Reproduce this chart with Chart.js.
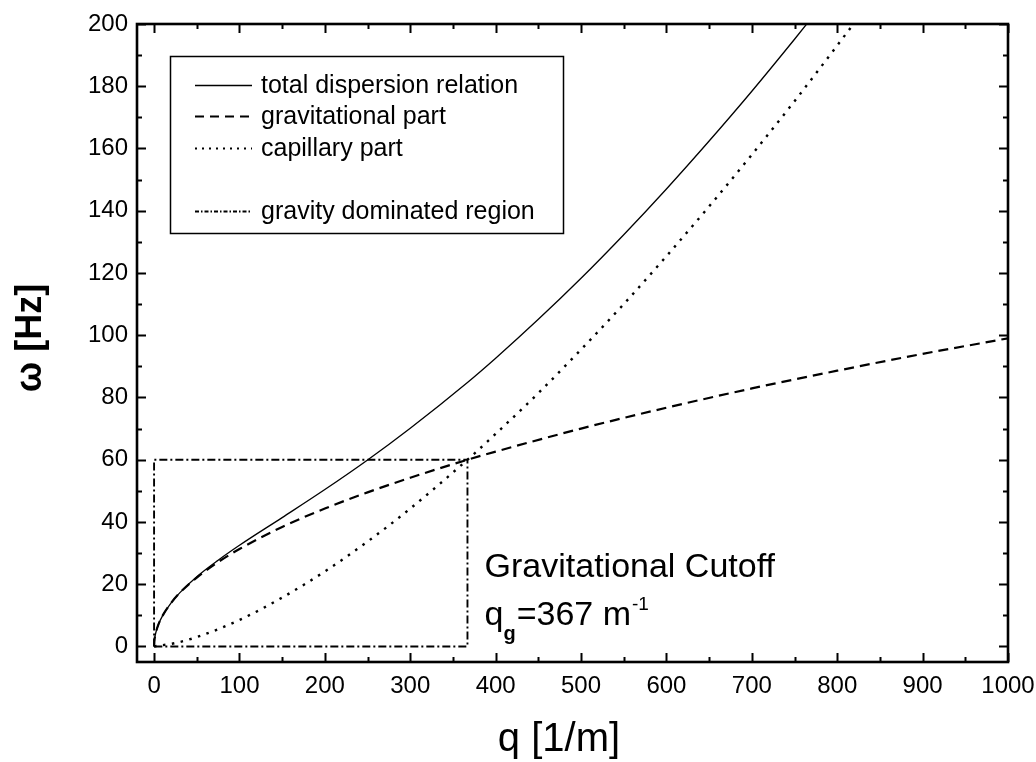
<!DOCTYPE html>
<html>
<head>
<meta charset="utf-8">
<title>Dispersion relation</title>
<script src="https://cdn.jsdelivr.net/npm/chart.js@4/dist/chart.umd.min.js"></script>
<style>
  body { margin: 0; background: #fff; }
  #wrap { width: 1036px; height: 762px; }
</style>
</head>
<body>
<div id="wrap"><canvas id="dispersionChart" width="1036" height="762"></canvas></div>
<script>
// wave number q [1/m] and angular frequency omega [Hz] for each curve
const qTotal = [0, 0.5, 1, 2, 5, 10, 20, 30, 50, 75, 100, 150, 200, 250, 300, 367, 400, 450, 500, 550, 600, 650, 700, 750, 780];
const wTotal = [0, 2.2, 3.1, 4.4, 7.0, 9.9, 14.0, 17.2, 22.4, 27.7, 32.5, 41.4, 50.4, 59.9, 70.1, 84.8, 92.6, 105.1, 118.3, 132.3, 147.0, 162.4, 178.4, 195.1, 205.4];

const qGrav = [0, 0.5, 1, 2, 5, 10, 20, 30, 50, 75, 100, 150, 200, 250, 300, 367, 400, 500, 600, 700, 800, 900, 1000];
const wGrav = [0, 2.2, 3.1, 4.4, 7.0, 9.9, 14.0, 17.2, 22.1, 27.1, 31.3, 38.4, 44.3, 49.5, 54.2, 60.0, 62.6, 70.0, 76.7, 82.9, 88.6, 94.0, 99.0];

const qCap = [0, 25, 50, 100, 150, 200, 250, 300, 367, 400, 450, 500, 550, 600, 650, 700, 750, 800, 830];
const wCap = [0, 1.1, 3.0, 8.5, 15.7, 24.1, 33.7, 44.3, 60.0, 68.3, 81.4, 95.4, 110.0, 125.4, 141.4, 158.0, 175.2, 193.1, 204.0];

// gravity dominated region: box up to the cutoff q_g
const qRegion = [0, 0, 367, 367, 0];
const wRegion = [0, 60, 60, 0, 0];

const xTicks = [0, 100, 200, 300, 400, 500, 600, 700, 800, 900, 1000];
const yTicks = [0, 20, 40, 60, 80, 100, 120, 140, 160, 180, 200];
const xMinorStep = 50;
const yMinorStep = 10;

const legendLabels = ['total dispersion relation', 'gravitational part', 'capillary part', 'gravity dominated region'];

const FONT = '"Liberation Sans", Arial, sans-serif';

function toPoints(xs, ys) {
    return xs.map((x, i) => ({ x: x, y: ys[i] }));
}

const styles = [
    { width: 1.3, dash: [] },
    { width: 2.2, dash: [10, 6] },
    { width: 2.4, dash: [2.5, 6.5] },
    { width: 1.9, dash: [8, 3, 2, 3] }
];

const datasets = [
    toPoints(qTotal, wTotal),
    toPoints(qGrav, wGrav),
    toPoints(qCap, wCap),
    toPoints(qRegion, wRegion)
].map((pts, i) => ({
    label: legendLabels[i],
    data: pts,
    showLine: true,
    borderColor: '#000',
    borderWidth: styles[i].width,
    borderDash: styles[i].dash,
    pointRadius: 0,
    cubicInterpolationMode: i < 3 ? 'monotone' : 'default',
    tension: 0,
    fill: false
}));

// keep the plot frame fixed, labels may overhang into the page margin
function noOverhang(s) {
    s.paddingLeft = 0;
    s.paddingRight = 0;
    s.paddingTop = 0;
    s.paddingBottom = 0;
}

// frame with inward ticks, legend box, titles and the cutoff note
const decorations = {
    id: 'decorations',
    beforeDraw(chart) {
        const ctx = chart.ctx;
        ctx.save();
        ctx.fillStyle = '#fff';
        ctx.fillRect(0, 0, chart.width, chart.height);
        ctx.restore();
    },
    afterDraw(chart) {
        const ctx = chart.ctx;
        const a = chart.chartArea;
        const xs = chart.scales.x;
        const ys = chart.scales.y;
        ctx.save();
        ctx.strokeStyle = '#000';
        ctx.fillStyle = '#000';
        ctx.setLineDash([]);

        // ticks
        ctx.lineWidth = 2;
        ctx.beginPath();
        for (let v = 0; v <= 1000; v += xMinorStep) {
            const px = Math.round(xs.getPixelForValue(v)) + 0.5;
            const len = xTicks.includes(v) ? 9 : 5;
            ctx.moveTo(px, a.bottom); ctx.lineTo(px, a.bottom - len);
            ctx.moveTo(px, a.top); ctx.lineTo(px, a.top + len);
        }
        for (let v = 0; v <= 200; v += yMinorStep) {
            const py = Math.round(ys.getPixelForValue(v)) + 0.5;
            const len = yTicks.includes(v) ? 9 : 5;
            ctx.moveTo(a.left, py); ctx.lineTo(a.left + len, py);
            ctx.moveTo(a.right, py); ctx.lineTo(a.right - len, py);
        }
        ctx.stroke();

        // frame
        ctx.lineWidth = 2.6;
        ctx.strokeRect(a.left, a.top, a.right - a.left, a.bottom - a.top);

        // legend
        const lx = 170, ly = 56, lw = 393, lh = 177;
        ctx.lineWidth = 1.5;
        ctx.strokeRect(lx + 0.5, ly + 0.5, lw, lh);
        const rows = [85, 116, 148, 211];
        ctx.font = '25px ' + FONT;
        ctx.textBaseline = 'middle';
        ctx.textAlign = 'left';
        rows.forEach((ry, i) => {
            ctx.lineWidth = i === 0 ? 1.3 : 1.8;
            ctx.setLineDash(i === 3 ? [4, 2, 1.5, 2] : i === 2 ? [2, 5] : styles[i].dash.length ? [9, 6] : []);
            ctx.beginPath();
            ctx.moveTo(195, ry + 0.5);
            ctx.lineTo(252, ry + 0.5);
            ctx.stroke();
            ctx.fillText(legendLabels[i], 261, ry + 1);
        });
        ctx.setLineDash([]);

        // cutoff note
        const tx = xs.getPixelForValue(387);
        ctx.textBaseline = 'alphabetic';
        ctx.font = '34px ' + FONT;
        ctx.fillText('Gravitational Cutoff', tx, 577);
        ctx.fillText('q', tx, 625);
        let cx = tx + ctx.measureText('q').width;
        ctx.font = 'bold 20px ' + FONT;
        ctx.fillText('g', cx, 640);
        cx += ctx.measureText('g').width + 1;
        ctx.font = '34px ' + FONT;
        ctx.fillText('=367 m', cx, 625);
        cx += ctx.measureText('=367 m').width + 1;
        ctx.font = '19px ' + FONT;
        ctx.fillText('-1', cx, 610);

        // axis titles
        ctx.textAlign = 'center';
        ctx.font = '40px ' + FONT;
        ctx.fillText('q [1/m]', 559, 751);
        ctx.translate(31, 338);
        ctx.rotate(-Math.PI / 2);
        ctx.textBaseline = 'middle';
        ctx.font = 'bold 36px ' + FONT;
        ctx.fillText('ω [Hz]', 0, 0);
        ctx.restore();
    }
};

const chart = new Chart(document.getElementById('dispersionChart').getContext('2d'), {
    type: 'scatter',
    data: { datasets: datasets },
    options: {
        responsive: false,
        animation: false,
        layout: { padding: { top: 24, right: 28, left: 0, bottom: 0 } },
        plugins: { legend: { display: false }, tooltip: { enabled: false } },
        scales: {
            x: {
                type: 'linear',
                min: -20,
                max: 1000,
                afterBuildTicks: s => { s.ticks = xTicks.map(v => ({ value: v })); },
                afterFit: s => { s.height = 100; noOverhang(s); },
                grid: { display: false, drawTicks: false },
                border: { display: false },
                ticks: { color: '#000', padding: 10, maxRotation: 0, callback: v => String(v), font: { size: 24, family: FONT } }
            },
            y: {
                type: 'linear',
                min: -5,
                max: 200,
                afterBuildTicks: s => { s.ticks = yTicks.map(v => ({ value: v })); },
                afterFit: s => { s.width = 137; noOverhang(s); },
                grid: { display: false, drawTicks: false },
                border: { display: false },
                ticks: { color: '#000', padding: 9, callback: v => String(v), font: { size: 24, family: FONT } }
            }
        }
    },
    plugins: [decorations]
});
</script>
</body>
</html>
